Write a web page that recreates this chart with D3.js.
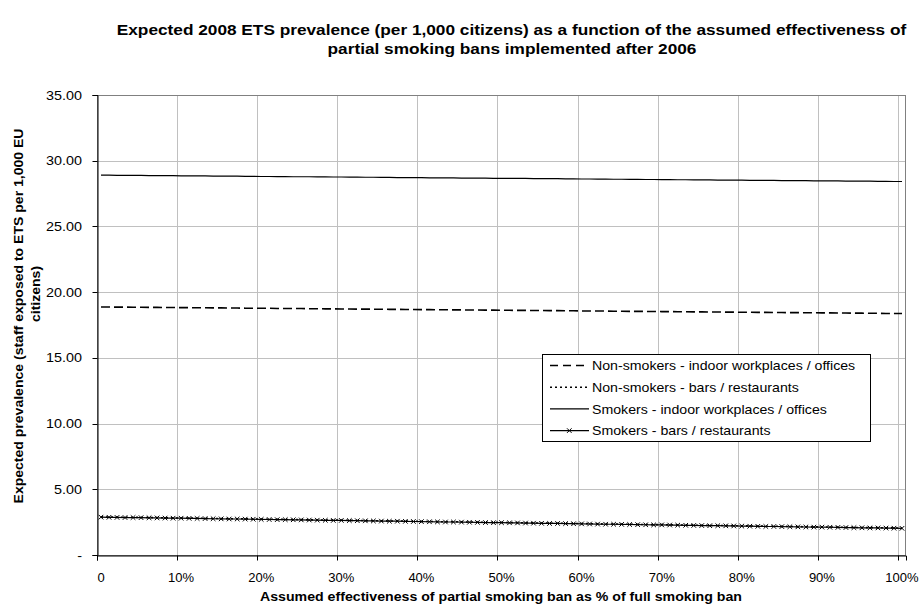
<!DOCTYPE html>
<html><head><meta charset="utf-8">
<script src="https://cdn.jsdelivr.net/npm/d3@7"></script>
<style>body{margin:0;background:#fff;}svg{display:block;font-family:"Liberation Sans",Arial,sans-serif;}</style>
</head><body>
<svg id="c" width="920" height="606"></svg>
<script>
const categories = d3.range(0, 101);
const xTickLabels = ["0","10%","20%","30%","40%","50%","60%","70%","80%","90%","100%"];
const yTicks = [0,5,10,15,20,25,30,35];
const seriesNames = ["Non-smokers - indoor workplaces / offices","Non-smokers - bars / restaurants","Smokers - indoor workplaces / offices","Smokers - bars / restaurants"];

const nonSmokersIndoor = [18.87,18.87,18.86,18.86,18.85,18.85,18.84,18.84,18.83,18.83,18.82,
18.82,18.81,18.81,18.80,18.80,18.79,18.79,18.78,18.78,18.77,
18.77,18.76,18.76,18.75,18.75,18.74,18.74,18.73,18.73,18.72,
18.72,18.71,18.71,18.70,18.70,18.69,18.69,18.68,18.68,18.67,
18.67,18.66,18.66,18.65,18.65,18.64,18.64,18.63,18.63,18.62,
18.62,18.61,18.61,18.60,18.60,18.59,18.59,18.58,18.58,18.57,
18.57,18.56,18.56,18.55,18.55,18.54,18.54,18.53,18.53,18.52,
18.52,18.51,18.51,18.50,18.50,18.49,18.49,18.48,18.48,18.47,
18.47,18.46,18.46,18.45,18.45,18.44,18.44,18.43,18.43,18.42,
18.42,18.41,18.41,18.40,18.40,18.39,18.39,18.38,18.38,18.37];

const nonSmokersBars = [2.90,2.89,2.88,2.87,2.87,2.86,2.85,2.84,2.83,2.82,2.82,
2.81,2.80,2.79,2.78,2.77,2.76,2.76,2.75,2.74,2.73,
2.72,2.71,2.71,2.70,2.69,2.68,2.67,2.66,2.65,2.65,
2.64,2.63,2.62,2.61,2.60,2.59,2.59,2.58,2.57,2.56,
2.55,2.54,2.53,2.53,2.52,2.51,2.50,2.49,2.48,2.48,
2.47,2.46,2.45,2.44,2.43,2.42,2.42,2.41,2.40,2.39,
2.38,2.37,2.36,2.36,2.35,2.34,2.33,2.32,2.31,2.31,
2.30,2.29,2.28,2.27,2.26,2.25,2.25,2.24,2.23,2.22,
2.21,2.20,2.19,2.19,2.18,2.17,2.16,2.15,2.14,2.14,
2.13,2.12,2.11,2.10,2.09,2.08,2.08,2.07,2.06,2.05];

const smokersIndoor = [28.90,28.90,28.89,28.89,28.88,28.88,28.87,28.87,28.86,28.86,28.85,
28.85,28.84,28.84,28.83,28.83,28.82,28.82,28.81,28.81,28.80,
28.80,28.79,28.79,28.78,28.78,28.78,28.77,28.77,28.76,28.76,
28.75,28.75,28.74,28.74,28.73,28.73,28.72,28.72,28.71,28.71,
28.70,28.70,28.69,28.69,28.68,28.68,28.67,28.67,28.66,28.66,
28.66,28.65,28.65,28.64,28.64,28.63,28.63,28.62,28.62,28.61,
28.61,28.60,28.60,28.59,28.59,28.58,28.58,28.57,28.57,28.56,
28.56,28.55,28.55,28.54,28.54,28.54,28.53,28.53,28.52,28.52,
28.51,28.51,28.50,28.50,28.49,28.49,28.48,28.48,28.47,28.47,
28.46,28.46,28.45,28.45,28.44,28.44,28.43,28.43,28.42,28.42];

const smokersBars = [2.88,2.87,2.86,2.85,2.85,2.84,2.83,2.82,2.81,2.80,2.80,
2.79,2.78,2.77,2.76,2.75,2.74,2.74,2.73,2.72,2.71,
2.70,2.69,2.69,2.68,2.67,2.66,2.65,2.64,2.63,2.63,
2.62,2.61,2.60,2.59,2.58,2.57,2.57,2.56,2.55,2.54,
2.53,2.52,2.51,2.51,2.50,2.49,2.48,2.47,2.46,2.46,
2.45,2.44,2.43,2.42,2.41,2.40,2.40,2.39,2.38,2.37,
2.36,2.35,2.34,2.34,2.33,2.32,2.31,2.30,2.29,2.29,
2.28,2.27,2.26,2.25,2.24,2.23,2.23,2.22,2.21,2.20,
2.19,2.18,2.17,2.17,2.16,2.15,2.14,2.13,2.12,2.12,
2.11,2.10,2.09,2.08,2.07,2.06,2.06,2.05,2.04,2.03];

const svg = d3.select("#c");
const L = 97, R = 906, T = 95, B = 555;
const x = d3.scaleLinear().domain([0, categories.length]).range([L, R]);
const y = d3.scaleLinear().domain([0, 35]).range([B, T]);
const xc = i => x(i + 0.5);

function txt(g, px, py, s, o) {
  o = o || {};
  return g.append("text")
    .attr("transform", `translate(${px},${py})` + (o.rot ? ` rotate(${o.rot})` : "") + ` scale(${o.sx || 1},1)`)
    .attr("text-anchor", o.anchor || "start")
    .attr("font-size", o.fs || 12)
    .attr("font-weight", o.bold ? "bold" : "normal")
    .attr("fill", "#000")
    .text(s);
}

// gridlines
const grid = svg.append("g").attr("stroke", "#c0c0c0").attr("stroke-width", 1);
yTicks.forEach(v => grid.append("line").attr("x1", L).attr("x2", R).attr("y1", Math.round(y(v))+0.5).attr("y2", Math.round(y(v))+0.5));
xTickLabels.forEach((t, k) => { const xx = Math.round(x(k*10))+0.5; grid.append("line").attr("x1", xx).attr("x2", xx).attr("y1", T).attr("y2", B); });

// plot border
svg.append("rect").attr("x", L+0.5).attr("y", T+0.5).attr("width", R-L-1).attr("height", B-T).attr("fill", "none").attr("stroke", "#808080");

// axes
const gy = svg.append("g").attr("transform", `translate(${L+0.5},0)`)
  .call(d3.axisLeft(y).tickValues(yTicks).tickSize(5).tickFormat(""));
const gx = svg.append("g").attr("transform", `translate(0,${B+0.5})`)
  .call(d3.axisBottom(x).tickValues(xTickLabels.map((t,k)=>k*10)).tickSize(5).tickFormat(""));
[gy, gx].forEach(g => {
  g.select(".domain").attr("stroke", "#000");
  g.selectAll(".tick line").attr("stroke", "#000");
});
gy.selectAll(".tick").attr("transform", d => `translate(0,${Math.round(y(d))+0.5})`);
gx.selectAll(".tick").attr("transform", d => `translate(${Math.round(x(d))+0.5},0)`);

const labels = svg.append("g");
yTicks.forEach(v => txt(labels, 82, y(v) + 4.5, v === 0 ? "-" : v.toFixed(2), {anchor: "end", fs: 12.5, sx: 1.15}));
xTickLabels.forEach((t, k) => txt(labels, xc(k*10), 582, t, {anchor: "middle", fs: 12.5, sx: 1.04}));

// lines
const line = d3.line().x((d,i) => xc(categories[i])).y(d => y(d));
const styles = [
  {data: nonSmokersIndoor, dash: "9,4", w: 1.6},
  {data: nonSmokersBars, dash: "2,3", w: 1.6},
  {data: smokersIndoor, dash: null, w: 1.2},
  {data: smokersBars, dash: null, w: 1.2, marker: true}
];
styles.forEach(s => {
  svg.append("path").attr("d", line(s.data)).attr("fill", "none").attr("stroke", "#000")
    .attr("stroke-width", s.w).attr("stroke-dasharray", s.dash);
  if (s.marker) {
    svg.append("g").selectAll("path").data(s.data).join("path")
      .attr("d", (d,i) => { const cx = xc(categories[i]), cy = y(d), r = 2.3;
        return `M${cx-r},${cy-r}L${cx+r},${cy+r}M${cx-r},${cy+r}L${cx+r},${cy-r}`; })
      .attr("stroke", "#000").attr("stroke-width", 1);
  }
});

// legend
const lg = svg.append("g");
lg.append("rect").attr("x", 542.5).attr("y", 354.5).attr("width", 328).attr("height", 87).attr("fill", "#fff").attr("stroke", "#000");
styles.forEach((s, i) => {
  const ly = 365.5 + i * 21.7;
  lg.append("line").attr("x1", 550).attr("x2", 589).attr("y1", ly).attr("y2", ly).attr("stroke", "#000")
    .attr("stroke-width", s.w).attr("stroke-dasharray", s.dash === "9,4" ? "8,5" : s.dash);
  if (s.marker) lg.append("path").attr("d", `M567,${ly-2.3}L571.6,${ly+2.3}M567,${ly+2.3}L571.6,${ly-2.3}`).attr("stroke", "#000");
  txt(lg, 592, ly + 4.8, seriesNames[i], {fs: 13, sx: 1.09});
});

// titles
txt(svg, 511.5, 35, "Expected 2008 ETS prevalence (per 1,000 citizens) as a function of the assumed effectiveness of", {anchor: "middle", bold: true, fs: 14.5, sx: 1.19});
txt(svg, 512, 54, "partial smoking bans implemented after 2006", {anchor: "middle", bold: true, fs: 14.5, sx: 1.19});
txt(svg, 501, 601, "Assumed effectiveness of partial smoking ban as % of full smoking ban", {anchor: "middle", bold: true, fs: 13, sx: 1.09});
txt(svg, 23, 316, "Expected prevalence (staff exposed to ETS per 1,000 EU", {anchor: "middle", bold: true, fs: 13, sx: 1.08, rot: -90});
txt(svg, 40, 294, "citizens)", {anchor: "middle", bold: true, fs: 13, sx: 1.08, rot: -90});
</script>
</body></html>
